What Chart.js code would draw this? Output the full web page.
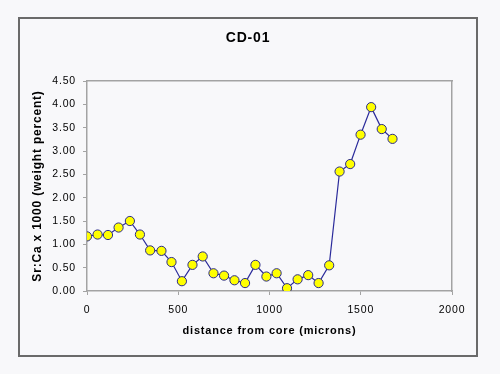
<!DOCTYPE html>
<html>
<head>
<meta charset="utf-8">
<script src="https://cdn.jsdelivr.net/npm/chart.js@4/dist/chart.umd.min.js"></script>
<style>
  body { margin: 0; background: #f8f8fa; }
  #wrap { width: 500px; height: 374px; }
</style>
</head>
<body>
<div id="wrap"><canvas id="srChart" width="500" height="374"></canvas></div>
<script>
// distance from core (microns) and Sr:Ca x 1000 values
const distance = [0, 58, 115, 173, 235, 290, 346, 408, 463, 520, 578, 634, 693, 751, 808,
    866, 923, 983, 1039, 1096, 1154, 1212, 1269, 1327, 1384, 1442, 1499, 1557, 1615, 1674];
const srCa = [1.17, 1.21, 1.20, 1.36, 1.50, 1.21, 0.87, 0.86, 0.62, 0.21, 0.56, 0.74, 0.38, 0.33, 0.23,
    0.17, 0.56, 0.31, 0.38, 0.06, 0.25, 0.34, 0.17, 0.55, 2.56, 2.72, 3.35, 3.94, 3.47, 3.26];
const chartTitle = 'CD-01';
const xTitle = 'distance from core (microns)';
const yTitle = 'Sr:Ca x 1000 (weight percent)';

const points = distance.map((d, i) => ({ x: d, y: srCa[i] }));

const frameColor = '#a3a3a3';
const fontName = 'Liberation Sans, Arial';

// background, outer box and a bit of letter spacing like the old excel gif
const boxPlugin = {
    id: 'box',
    beforeDraw(chart) {
        const ctx = chart.ctx;
        ctx.save();
        ctx.fillStyle = '#f8f8fa';
        ctx.fillRect(0, 0, chart.width, chart.height);
        ctx.strokeStyle = '#6a6a6a';
        ctx.lineWidth = 2;
        ctx.strokeRect(19, 18, 458, 338);
        ctx.restore();
        ctx.letterSpacing = '0.8px';
    }
};

const ctx = document.getElementById('srChart').getContext('2d');
const chart = new Chart(ctx, {
    type: 'line',
    data: {
        datasets: [{
            data: points,
            borderColor: '#2b2b9b',
            borderWidth: 1.2,
            backgroundColor: '#ffff00',
            pointBackgroundColor: '#ffff00',
            pointBorderColor: '#2b2b8b',
            pointBorderWidth: 1,
            pointRadius: 4.6,
            tension: 0,
            fill: false
        }]
    },
    options: {
        responsive: false,
        animation: false,
        layout: { padding: { left: 20, right: 24, top: 30, bottom: 30 } },
        plugins: {
            legend: { display: false },
            tooltip: { enabled: false },
            title: {
                display: true,
                text: chartTitle,
                color: '#000',
                font: { family: fontName, size: 14, weight: 'bold' },
                padding: { top: 0, bottom: 34.2 }
            }
        },
        scales: {
            x: {
                type: 'linear',
                position: 'bottom',
                min: 0,
                max: 2000,
                afterFit: (s) => { s.height = 53; },
                ticks: {
                    stepSize: 500,
                    color: '#000',
                    padding: 9,
                    maxRotation: 0,
                    font: { family: fontName, size: 10.5 },
                    callback: (v) => String(v)
                },
                grid: { drawOnChartArea: false, tickLength: 4, color: frameColor },
                border: { color: frameColor, width: 1.5 },
                title: {
                    display: true,
                    text: xTitle,
                    color: '#000',
                    font: { family: fontName, size: 11, weight: 'bold' },
                    padding: { top: 0, bottom: 6 }
                }
            },
            y: {
                position: 'left',
                min: 0,
                max: 4.5,
                afterFit: (s) => { s.width = 67; },
                ticks: {
                    stepSize: 0.5,
                    color: '#000',
                    padding: 7,
                    font: { family: fontName, size: 10.5 },
                    callback: (v) => v.toFixed(2)
                },
                grid: { drawOnChartArea: false, tickLength: 4, color: frameColor },
                border: { color: frameColor, width: 1.5 },
                title: {
                    display: true,
                    text: yTitle,
                    color: '#000',
                    font: { family: fontName, size: 12, weight: 'bold' },
                    padding: { top: 10.8, bottom: 0 }
                }
            },
            // empty axes only to close the plot frame on top and right
            x2: {
                type: 'linear',
                position: 'top',
                min: 0,
                max: 2000,
                afterFit: (s) => { s.height = 0; },
                ticks: { display: false },
                grid: { drawOnChartArea: false, drawTicks: false },
                border: { color: frameColor, width: 1.5 }
            },
            y2: {
                position: 'right',
                min: 0,
                max: 4.5,
                afterFit: (s) => { s.width = 24; },
                ticks: { display: false },
                grid: { drawOnChartArea: false, drawTicks: false },
                border: { color: frameColor, width: 1.5 }
            }
        }
    },
    plugins: [boxPlugin]
});
</script>
</body>
</html>
